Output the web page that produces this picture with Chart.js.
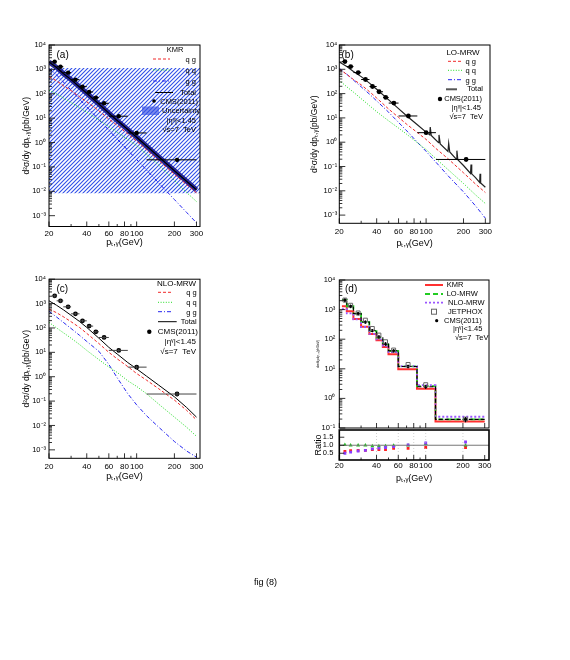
<!DOCTYPE html>
<html><head><meta charset="utf-8">
<script src="https://cdn.jsdelivr.net/npm/chart.js@4.4.0/dist/chart.umd.min.js"></script>
<style>
body{margin:0;background:#fff;width:570px;height:660px;position:relative;overflow:hidden;font-family:"Liberation Sans",Arial,sans-serif}
canvas{position:absolute;left:0;top:0}
#cap{position:absolute;left:254px;top:577px;font-size:9px;color:#000}
</style></head><body>
<canvas id="pa" width="570" height="660"></canvas>
<canvas id="pb" width="570" height="660"></canvas>
<canvas id="pc" width="570" height="660"></canvas>
<canvas id="pd" width="570" height="660"></canvas>
<canvas id="pr" width="570" height="660"></canvas>
<div id="cap">fig (8)</div>
<script>
// ---- data ----
const ptGrid = [20, 23, 26, 30, 35, 40, 50, 60, 70, 85, 100, 120, 150, 200, 250, 300];

// (a) KMR
const kmrQG    = [500, 338, 215, 135, 76, 47, 20, 9.2, 5.1, 2.25, 1.14, 0.51, 0.184, 0.05, 0.019, 0.0087];
const kmrQQ    = [140, 98, 68, 44, 27, 17.5, 8.5, 4.5, 2.6, 1.35, 0.75, 0.33, 0.12, 0.028, 0.009, 0.0038];
const kmrGG    = [1100, 594, 305, 140, 60, 29, 8.7, 3.2, 1.39, 0.485, 0.2, 0.074, 0.022, 0.0046, 0.00137, 0.00051];
const kmrTotal = [2000, 1200, 680, 380, 190, 105, 38, 16, 8.0, 3.4, 1.65, 0.72, 0.26, 0.07, 0.026, 0.0115];
const uncX    = [20, 320];
const uncHigh = [1150, 1150];
const uncLow  = [0.0083, 0.0083];

// (b) LO-MRW
const loQG    = [1000, 620, 380, 230, 120, 66, 23, 10.5, 5.4, 2.5, 1.3, 0.55, 0.21, 0.055, 0.019, 0.0085];
const loQQ    = [350, 190, 115, 62, 32, 18, 7.5, 3.8, 2.1, 0.95, 0.5, 0.21, 0.075, 0.02, 0.0068, 0.003];
const loGG    = [1100, 620, 360, 190, 95, 50, 17, 6.5, 2.9, 1.0, 0.42, 0.15, 0.042, 0.009, 0.0024, 0.00075];
// total is spiky at high pT
const loTotalX = [20, 23, 26, 30, 35, 40, 50, 60, 70, 85, 100, 107, 108, 110, 126, 127, 130, 150, 152, 155,
                  175, 177, 180, 200, 228, 230, 233, 250, 270, 272, 275, 300];
const loTotal  = [2000, 1300, 820, 500, 270, 150, 55, 24, 12, 5.2, 2.6, 2.0, 4.2, 1.9, 0.95, 2.0, 0.85, 0.42, 0.9, 0.4,
                  0.2, 0.45, 0.19, 0.11, 0.052, 0.12, 0.05, 0.035, 0.022, 0.05, 0.021, 0.014];

// (c) NLO-MRW
const nloQG    = [600, 420, 290, 180, 105, 60, 23, 10, 5.4, 2.6, 1.35, 0.72, 0.32, 0.11, 0.042, 0.017];
const nloQQ    = [170, 100, 64, 38, 21, 12, 5.0, 2.5, 1.5, 0.68, 0.4, 0.2, 0.075, 0.022, 0.0085, 0.0036];
const nloGG    = [480, 280, 170, 95, 50, 28, 11, 3.2, 0.9, 0.2, 0.07, 0.025, 0.0085, 0.0022, 0.0009, 0.0005];
const nloTotal = [1300, 850, 560, 330, 185, 105, 38, 16, 8.5, 3.8, 2.1, 1.05, 0.45, 0.15, 0.055, 0.022];

// CMS(2011) data, bins in GeV
const binLo  = [21, 23, 26, 30, 35, 40, 45, 50, 60, 85, 120];
const binHi  = [23, 26, 30, 35, 40, 45, 50, 60, 85, 120, 300];
const cmsX   = [22.2, 24.7, 28.4, 32.5, 37, 41.8, 47.3, 55, 72, 100, 210];
const cmsY   = [2075, 1295, 735, 380, 196, 119, 69.5, 40.7, 12.0, 2.47, 0.195];
const cmsErr = [0.15, 0.14, 0.13, 0.12, 0.12, 0.12, 0.13, 0.13, 0.14, 0.16, 0.2];

// (d) binned predictions
const kmrHist = [1300, 880, 480, 265, 150, 92, 55, 31, 9.6, 2.1, 0.167];
const loHist  = [2120, 1300, 735, 380, 186, 113, 66, 40, 12, 2.6, 0.195];
const nloHist = [1040, 740, 470, 258, 151, 98, 60, 37, 12.2, 2.8, 0.24];
const jetphox = [2100, 1400, 770, 440, 230, 138, 82, 43, 14, 2.9, 0.2];
const ratioKMR = [0.61, 0.66, 0.68, 0.68, 0.73, 0.73, 0.73, 0.8, 0.8, 0.86, 0.86];
const ratioLO  = [1.02, 1.0, 1.0, 1.0, 0.95, 0.95, 0.95, 0.98, 1.0, 1.09, 1.0];
const ratioNLO = [0.5, 0.57, 0.64, 0.68, 0.77, 0.82, 0.86, 0.91, 1.02, 1.14, 1.2];

const xTickVals = [20, 40, 60, 80, 100, 200, 300];
const xMinorVals = [30, 50, 70, 90];
const decades = [1e-3, 1e-2, 1e-1, 1, 10, 100, 1e3, 1e4];
const ratioTicks = [0.5, 1.0, 1.5];

// ---- helpers ----
const FF = '"Liberation Sans", Arial, sans-serif';
const W = 570, H = 660;
const LF = 7.5; // legend font
const YTITLE = 'd²σ/dy dpₜ,ᵧ(pb/GeV)';
const XTITLE = 'pₜ,ᵧ(GeV)';
const sup = {'-': '⁻', '0': '⁰', '1': '¹', '2': '²', '3': '³', '4': '⁴'};
const powLabel = v => '10' + String(Math.round(Math.log10(v))).split('').map(c => sup[c]).join('');

const RED = '#f02828', GREEN = '#22dd22', BLUE = '#2626f0';
const DASH = [3, 2], DOT = [1, 1.6], DASHDOT = [4, 2, 1, 2];

function hatch(color, bg) {
  const c = document.createElement('canvas');
  c.width = c.height = 4;
  const g = c.getContext('2d');
  if (bg) { g.fillStyle = bg; g.fillRect(0, 0, 4, 4); }
  g.strokeStyle = color; g.lineWidth = 1.1;
  g.beginPath();
  g.moveTo(0, 4); g.lineTo(4, 0);
  g.moveTo(-1, 1); g.lineTo(1, -1);
  g.moveTo(3, 5); g.lineTo(5, 3);
  g.stroke();
  return g.createPattern(c, 'repeat');
}

function curve(xs, ys, color, dash, w, order) {
  return { data: xs.map((x, i) => ({x, y: ys[i]})), showLine: true, borderColor: color,
           borderDash: dash || [], borderWidth: w || 1, pointRadius: 0, fill: false, order: order || 5 };
}
function points(xs, ys, color, r, style, order) {
  return { data: xs.map((x, i) => ({x, y: ys[i]})), showLine: false, pointRadius: r,
           pointStyle: style || 'circle', backgroundColor: color, borderColor: color, borderWidth: 0, order: order || 1 };
}
function hist(vals, color, dash, w, order) {
  const pts = binLo.map((lo, i) => ({x: lo, y: vals[i]}));
  pts.push({x: binHi[binHi.length - 1], y: vals[vals.length - 1]});
  return { data: pts, showLine: true, stepped: true, borderColor: color, borderDash: dash || [],
           borderWidth: w, pointRadius: 0, fill: false, order };
}

function xScale(max, o) {
  return {
    type: 'logarithmic', min: 20, max,
    afterBuildTicks: s => { s.ticks = xTickVals.map(v => ({value: v})); },
    afterFit: s => { s.height = o.h; },
    grid: {display: false, drawTicks: false, tickLength: 0}, border: {display: false},
    ticks: {autoSkip: false, maxRotation: 0, padding: o.pad, color: '#000', font: {family: FF, size: 8},
            callback: v => String(v)},
    title: {display: true, text: XTITLE, color: '#000', font: {family: FF, size: 9}, padding: {top: 0, bottom: o.tpad}}
  };
}
function yLog(min, max, o) {
  return {
    type: 'logarithmic', min, max,
    afterBuildTicks: s => { s.ticks = decades.filter(v => v >= min * 0.999 && v <= max * 1.001).map(v => ({value: v})); },
    afterFit: s => { s.width = o.w; },
    grid: {display: false, drawTicks: false, tickLength: 0}, border: {display: false},
    ticks: {autoSkip: false, padding: o.pad, color: '#000', font: {family: FF, size: o.fs || 7.5}, callback: v => powLabel(v)},
    title: {display: true, text: YTITLE, color: '#000', font: {family: FF, size: o.ts || 8.5}, padding: {top: o.tpad, bottom: 0}}
  };
}

// frame + inner ticks
function decor(o) {
  return {
    id: 'decor',
    afterDatasetsDraw(chart) {
      const {ctx, chartArea: a, scales: {x, y}} = chart;
      ctx.save();
      if (o.vgrid) {
        ctx.strokeStyle = '#bbb'; ctx.lineWidth = 0.7; ctx.setLineDash([1, 2]);
        ctx.beginPath();
        o.vgrid.forEach(v => { const px = x.getPixelForValue(v); ctx.moveTo(px, a.top); ctx.lineTo(px, a.bottom); });
        ctx.stroke(); ctx.setLineDash([]);
      }
      if (o.refLine !== undefined) {
        ctx.strokeStyle = '#777'; ctx.lineWidth = 1;
        const py = y.getPixelForValue(o.refLine);
        ctx.beginPath(); ctx.moveTo(a.left, py); ctx.lineTo(a.right, py); ctx.stroke();
      }
      ctx.strokeStyle = '#000'; ctx.lineWidth = o.lw || 1;
      ctx.strokeRect(a.left, a.top, a.width, a.height);
      ctx.lineWidth = 0.8;
      ctx.beginPath();
      xTickVals.forEach(v => { const px = x.getPixelForValue(v); ctx.moveTo(px, a.bottom); ctx.lineTo(px, a.bottom - 5); });
      xMinorVals.forEach(v => { const px = x.getPixelForValue(v); ctx.moveTo(px, a.bottom); ctx.lineTo(px, a.bottom - 2.5); });
      if (o.yLog) {
        decades.forEach(d => {
          for (let k = 1; k <= 9; k++) {
            const v = d * k;
            if (v < y.min || v > y.max) continue;
            const py = y.getPixelForValue(v);
            ctx.moveTo(a.left, py); ctx.lineTo(a.left + (k === 1 ? 6 : 3), py);
          }
        });
      } else {
        ratioTicks.forEach(v => { const py = y.getPixelForValue(v); ctx.moveTo(a.left, py); ctx.lineTo(a.left + 5, py); });
      }
      ctx.stroke();
      ctx.restore();
    }
  };
}

// horizontal bin bars + vertical errors
function errbars(o) {
  return {
    id: 'errbars',
    afterDatasetsDraw(chart) {
      const {ctx, scales: {x, y}} = chart;
      ctx.save();
      ctx.strokeStyle = o.color || '#000'; ctx.lineWidth = 1;
      ctx.beginPath();
      cmsY.forEach((v, i) => {
        const py = y.getPixelForValue(v), px = x.getPixelForValue(cmsX[i]);
        if (o.bins) { ctx.moveTo(x.getPixelForValue(binLo[i]), py); ctx.lineTo(x.getPixelForValue(binHi[i]), py); }
        ctx.moveTo(px, y.getPixelForValue(v * (1 + cmsErr[i])));
        ctx.lineTo(px, y.getPixelForValue(v * (1 - cmsErr[i])));
      });
      ctx.stroke();
      ctx.restore();
    }
  };
}

// legend and annotations
function overlay(items) {
  return {
    id: 'overlay',
    afterDraw(chart) {
      const ctx = chart.ctx;
      items.forEach(it => {
        ctx.save();
        if (it.t === 'text') {
          ctx.font = (it.s || LF) + 'px ' + FF; ctx.fillStyle = '#000';
          ctx.textAlign = it.a || 'left'; ctx.textBaseline = 'middle';
          ctx.fillText(it.txt, it.x, it.y);
        } else if (it.t === 'line') {
          ctx.strokeStyle = it.c; ctx.lineWidth = it.w || 1; ctx.setLineDash(it.d || []);
          ctx.beginPath(); ctx.moveTo(it.x1, it.y); ctx.lineTo(it.x2, it.y); ctx.stroke();
        } else if (it.t === 'dot') {
          ctx.fillStyle = '#000'; ctx.beginPath(); ctx.arc(it.x, it.y, it.r, 0, 2 * Math.PI); ctx.fill();
        } else if (it.t === 'box') {
          ctx.fillStyle = it.fill; ctx.fillRect(it.x, it.y, it.w, it.h);
        } else if (it.t === 'sq') {
          ctx.strokeStyle = '#666'; ctx.lineWidth = 1; ctx.strokeRect(it.x - it.s / 2, it.y - it.s / 2, it.s, it.s);
        }
        ctx.restore();
      });
    }
  };
}

function panel(id, g, datasets, scales, plugins) {
  return new Chart(document.getElementById(id), {
    type: 'scatter',
    data: {datasets},
    options: {
      responsive: false, animation: false, events: [],
      layout: {padding: {left: g.L - g.yW, top: g.T, right: W - g.R, bottom: H - g.B - g.xH}},
      plugins: {legend: {display: false}, tooltip: {enabled: false}},
      scales
    },
    plugins
  });
}

function legendRows(x1, x2, xr, rows) {
  const out = [];
  rows.forEach(r => {
    out.push({t: 'line', x1, x2, y: r.y - 1, c: r.c, d: r.d, w: r.w});
    out.push({t: 'text', txt: r.txt, x: xr, y: r.y, a: 'right'});
  });
  return out;
}

// ---- (a) KMR ----
const hatchBlue = hatch('#3050e8');
panel('pa', {L: 49, T: 45, R: 200, B: 226.5, yW: 36, xH: 26}, [
  {data: uncX.map((x, i) => ({x, y: uncHigh[i]})), showLine: true, borderWidth: 0, pointRadius: 0,
   backgroundColor: hatchBlue, fill: '+1', order: 10},
  {data: uncX.map((x, i) => ({x, y: uncLow[i]})), showLine: true, borderWidth: 0, pointRadius: 0, fill: false, order: 11},
  curve(ptGrid, kmrTotal, 'rgba(20,20,140,0.9)', [], 5, 9),
  curve(ptGrid, kmrQG, RED, DASH, 1, 4),
  curve(ptGrid, kmrQQ, GREEN, DOT, 1, 5),
  curve(ptGrid, kmrGG, BLUE, DASHDOT, 1, 6),
  curve(ptGrid, kmrTotal, '#000', [], 1.2, 2),
  points(cmsX, cmsY, '#000', 2.2)
], {
  x: xScale(320, {h: 26, pad: 2, tpad: 4.1}),
  y: yLog(3.6e-4, 1e4, {w: 36, pad: 3, tpad: 8.4})
}, [decor({yLog: true}), errbars({bins: true}), overlay([
  {t: 'text', txt: '(a)', x: 56.5, y: 55, s: 10},
  {t: 'text', txt: 'KMR', x: 175, y: 50, a: 'center'},
  ...legendRows(153, 170, 196, [
    {y: 60, txt: 'q g', c: RED, d: DASH},
    {y: 71, txt: 'q q', c: GREEN, d: DOT},
    {y: 82, txt: 'g g', c: BLUE, d: DASHDOT}
  ]),
  {t: 'line', x1: 155, x2: 173, y: 92.5, c: '#000'},
  {t: 'text', txt: 'Total', x: 196, y: 93.3, a: 'right'},
  {t: 'dot', x: 154, y: 101, r: 1.8},
  {t: 'text', txt: 'CMS(2011)', x: 198, y: 101.5, a: 'right'},
  {t: 'box', x: 142, y: 106.5, w: 17, h: 8.5, fill: '#7d8bec'},
  {t: 'box', x: 142, y: 106.5, w: 17, h: 8.5, fill: hatchBlue},
  {t: 'text', txt: 'Uncertainty', x: 200, y: 111, a: 'right'},
  {t: 'text', txt: '|ηᵞ|<1.45', x: 196, y: 120.5, a: 'right'},
  {t: 'text', txt: '√s=7  TeV', x: 196, y: 129.5, a: 'right'}
])]);

// ---- (b) LO-MRW ----
panel('pb', {L: 339.3, T: 45, R: 490, B: 223.3, yW: 36, xH: 26}, [
  curve(ptGrid, loQG, RED, DASH, 1, 4),
  curve(ptGrid, loQQ, GREEN, DOT, 1, 5),
  curve(ptGrid, loGG, BLUE, DASHDOT, 1, 6),
  curve(loTotalX, loTotal, '#222', [], 1.2, 2),
  points(cmsX, cmsY, '#000', 2.4)
], {
  x: xScale(327, {h: 26, pad: 4, tpad: 0.6}),
  y: yLog(4.6e-4, 1e4, {w: 36, pad: 2, tpad: 6.6})
}, [decor({yLog: true}), errbars({bins: true}), overlay([
  {t: 'text', txt: '(b)', x: 341.5, y: 55, s: 10},
  {t: 'text', txt: 'LO-MRW', x: 463, y: 52.7, a: 'center', s: 8},
  ...legendRows(448, 463, 476, [
    {y: 62.3, txt: 'q g', c: RED, d: DASH},
    {y: 71.3, txt: 'q q', c: GREEN, d: DOT},
    {y: 80.7, txt: 'g g', c: BLUE, d: DASHDOT}
  ]),
  {t: 'line', x1: 446, x2: 457, y: 89.3, c: '#555', w: 2},
  {t: 'text', txt: 'Total', x: 483, y: 89.3, a: 'right'},
  {t: 'dot', x: 440, y: 99, r: 2.2},
  {t: 'text', txt: 'CMS(2011)', x: 482, y: 99.3, a: 'right'},
  {t: 'text', txt: '|ηᵞ|<1.45', x: 481, y: 108.3, a: 'right'},
  {t: 'text', txt: '√s=7  TeV', x: 483, y: 117.3, a: 'right'}
])]);

// ---- (c) NLO-MRW ----
panel('pc', {L: 49, T: 279.2, R: 200, B: 458.3, yW: 36, xH: 26}, [
  curve(ptGrid, nloQG, RED, DASH, 1, 4),
  curve(ptGrid, nloQQ, GREEN, DOT, 1, 5),
  curve(ptGrid, nloGG, BLUE, DASHDOT, 1, 6),
  curve(ptGrid, nloTotal, '#000', [], 1, 2),
  points(cmsX, cmsY, '#000', 2.4)
], {
  x: xScale(320, {h: 26, pad: 3.5, tpad: 2.2}),
  y: yLog(4.5e-4, 1e4, {w: 36, pad: 3, tpad: 8.4})
}, [decor({yLog: true}), errbars({bins: true, color: '#444'}), overlay([
  {t: 'text', txt: '(c)', x: 56.5, y: 289.3, s: 10},
  {t: 'text', txt: 'NLO-MRW', x: 176.5, y: 283.3, a: 'center', s: 8},
  ...legendRows(158, 173, 196.7, [
    {y: 293.3, txt: 'q g', c: RED, d: DASH},
    {y: 303.3, txt: 'q q', c: GREEN, d: DOT},
    {y: 312.7, txt: 'g g', c: BLUE, d: DASHDOT}
  ]),
  {t: 'line', x1: 158, x2: 176.7, y: 321.7, c: '#000'},
  {t: 'text', txt: 'Total', x: 196.7, y: 321.7, a: 'right'},
  {t: 'dot', x: 149.3, y: 331.7, r: 2.2},
  {t: 'text', txt: 'CMS(2011)', x: 198, y: 331.7, a: 'right', s: 8},
  {t: 'text', txt: '|ηᵞ|<1.45', x: 196, y: 341.7, a: 'right', s: 8},
  {t: 'text', txt: '√s=7  TeV', x: 196, y: 351.7, a: 'right', s: 8}
])]);

// ---- (d) binned comparison ----
const PURPLE = '#9a55ff';
panel('pd', {L: 339.3, T: 280, R: 489, B: 428, yW: 36, xH: 0}, [
  hist(kmrHist, '#ff3030', [], 2, 4),
  hist(loHist, '#22cc22', [5, 3], 1.8, 3),
  hist(nloHist, PURPLE, [2, 2], 1.8, 2),
  hist(cmsY, '#000', [4, 2], 1.1, 1),
  {data: cmsX.map((x, i) => ({x, y: jetphox[i]})), showLine: false, pointStyle: 'rect', pointRadius: 2.8,
   borderColor: '#666', backgroundColor: 'rgba(0,0,0,0)', borderWidth: 1, order: 0},
  points(cmsX, cmsY, '#000', 1.6, 'circle', 0)
], {
  x: Object.assign(xScale(325, {h: 0, pad: 0, tpad: 0}), {display: false}),
  y: yLog(0.1, 1e4, {w: 36, pad: 4, tpad: 13.2, ts: 3})
}, [decor({yLog: true}), errbars({bins: false}), overlay([
  {t: 'text', txt: '(d)', x: 345, y: 289.3, s: 10},
  {t: 'line', x1: 425, x2: 443, y: 285, c: '#ff3030', w: 2},
  {t: 'text', txt: 'KMR', x: 446.7, y: 285},
  {t: 'line', x1: 425, x2: 443, y: 294, c: '#22cc22', w: 1.8, d: [5, 3]},
  {t: 'text', txt: 'LO-MRW', x: 446.7, y: 294},
  {t: 'line', x1: 425, x2: 443, y: 302.7, c: PURPLE, w: 1.8, d: [2, 2]},
  {t: 'text', txt: 'NLO-MRW', x: 448, y: 302.7},
  {t: 'sq', x: 434, y: 311.7, s: 5},
  {t: 'text', txt: 'JETPHOX', x: 448, y: 311.7},
  {t: 'dot', x: 436.7, y: 320.7, r: 1.6},
  {t: 'text', txt: 'CMS(2011)', x: 444, y: 320.7},
  {t: 'text', txt: '|ηᵞ|<1.45', x: 453, y: 329.3},
  {t: 'text', txt: '√s=7  TeV', x: 455, y: 338.3}
])]);

// ---- (d) ratio pad ----
panel('pr', {L: 339.3, T: 430, R: 489, B: 460, yW: 36, xH: 26}, [
  points(cmsX, ratioKMR, '#ff2020', 2, 'rect', 3),
  points(cmsX, ratioLO, '#20c020', 2.3, 'triangle', 2),
  points(cmsX, ratioNLO, '#8a3cff', 2, 'rect', 1)
], {
  x: xScale(325, {h: 26, pad: 0.5, tpad: 2.3}),
  y: {
    type: 'linear', min: 0.08, max: 1.95,
    afterBuildTicks: s => { s.ticks = ratioTicks.map(v => ({value: v})); },
    afterFit: s => { s.width = 36; },
    grid: {display: false, drawTicks: false, tickLength: 0}, border: {display: false},
    ticks: {autoSkip: false, padding: 6, color: '#000', font: {family: FF, size: 7.5}, callback: v => v.toFixed(1)},
    title: {display: true, text: 'Ratio', color: '#000', font: {family: FF, size: 9}, padding: {top: 9.6, bottom: 0}}
  }
}, [decor({yLog: false, lw: 1.6, refLine: 1, vgrid: [40, 60, 80, 100, 200]})]);
</script>
</body></html>
